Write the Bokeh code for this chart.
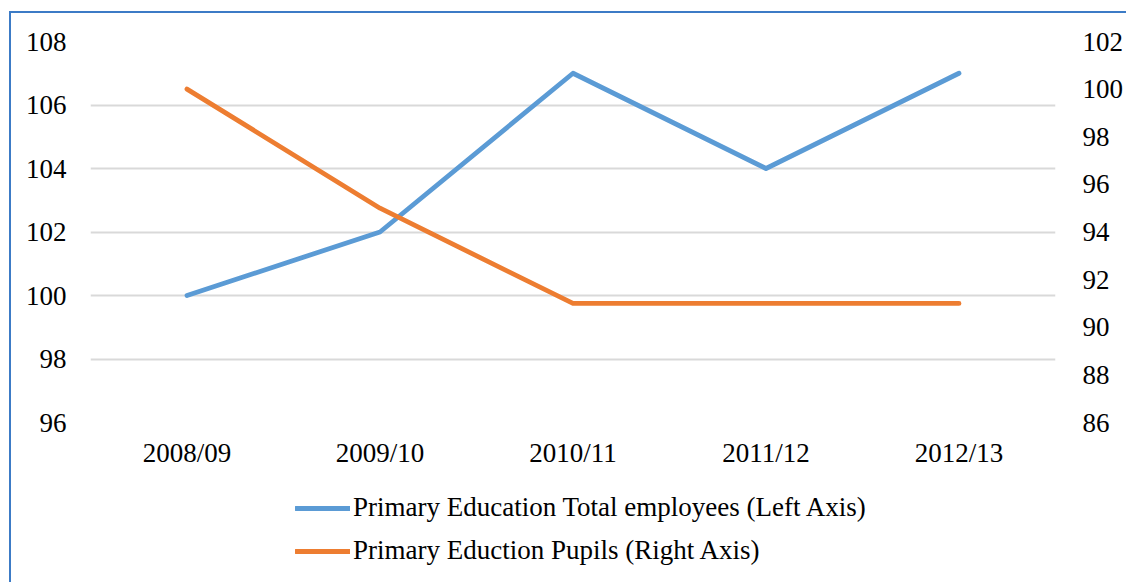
from bokeh.plotting import figure
from bokeh.models import (FactorRange, Range1d, LinearAxis, SingleIntervalTicker,
                          Legend, LegendItem)
from bokeh.layouts import column
from bokeh.embed import file_html
from bokeh.resources import INLINE

categories = ["2008/09", "2009/10", "2010/11", "2011/12", "2012/13"]
employees = [100, 102, 107, 104, 107]   # left axis
pupils = [100, 95, 91, 91, 91]          # right axis
legend_labels = ["Primary Education Total employees (Left Axis)",
                 "Primary Eduction Pupils (Right Axis)"]
colors = ["#5B9BD5", "#ED7D31"]

FONT = "Liberation Serif"
FS = "27px"
W = 1115
LW = 4.8

p = figure(x_range=FactorRange(*categories), y_range=Range1d(96, 108),
           width=W, height=471, output_backend="svg", toolbar_location=None,
           min_border_left=79, min_border_right=68, min_border_top=28,
           min_border_bottom=62)
p.outline_line_color = None
p.background_fill_color = "white"
p.border_fill_color = "white"

p.extra_y_ranges = {"right": Range1d(86, 102)}

p.xgrid.grid_line_color = None
p.ygrid.grid_line_color = "#D9D9D9"
p.ygrid.grid_line_width = 2
p.yaxis.ticker = SingleIntervalTicker(interval=2)

for ax in [p.xaxis[0], p.yaxis[0]]:
    ax.axis_line_color = None
    ax.major_tick_line_color = None
    ax.minor_tick_line_color = None
    ax.major_label_text_font = FONT
    ax.major_label_text_font_size = FS
    ax.major_label_text_color = "black"
p.yaxis.major_label_standoff = 18
p.xaxis.major_label_standoff = 9

ra = LinearAxis(y_range_name="right", ticker=SingleIntervalTicker(interval=2))
ra.axis_line_color = None
ra.major_tick_line_color = None
ra.minor_tick_line_color = None
ra.major_label_text_font = FONT
ra.major_label_text_font_size = FS
ra.major_label_text_color = "black"
ra.major_label_standoff = 21
p.add_layout(ra, "right")

p.line(categories, employees, line_color=colors[0], line_width=LW,
       line_cap="round", line_join="round")
p.line(categories, pupils, line_color=colors[1], line_width=LW,
       line_cap="round", line_join="round", y_range_name="right")

# legend strip below the chart (its own series copies lie outside its view)
pl = figure(width=W, height=98, output_backend="svg", toolbar_location=None,
            x_range=FactorRange(*categories), y_range=Range1d(0, 1),
            x_axis_location=None, y_axis_location=None,
            min_border_left=79, min_border_right=68, min_border_top=0,
            min_border_bottom=0)
pl.grid.visible = False
pl.outline_line_color = None
pl.border_fill_color = "white"
pl.background_fill_color = "white"
items = []
for lbl, c, vals in zip(legend_labels, colors, [employees, pupils]):
    r = pl.line(categories, vals, line_color=c, line_width=LW, line_cap="round")
    items.append(LegendItem(label=lbl, renderers=[r]))
lg = Legend(items=items, location=(205, 16))
lg.border_line_color = None
lg.background_fill_alpha = 0
lg.label_text_font = FONT
lg.label_text_font_size = FS
lg.label_text_color = "black"
lg.glyph_width = 55
lg.glyph_height = 30
lg.label_height = 30
lg.label_standoff = 3
lg.spacing = 12
lg.padding = 0
lg.margin = 0
pl.add_layout(lg, "center")

layout = column(p, pl, spacing=0,
                styles={"border-left": "2px solid #3C7BC6",
                        "border-top": "2px solid #3C7BC6",
                        "margin-top": "11px", "margin-left": "9px"})
open("out.html", "w").write(file_html(layout, INLINE))
